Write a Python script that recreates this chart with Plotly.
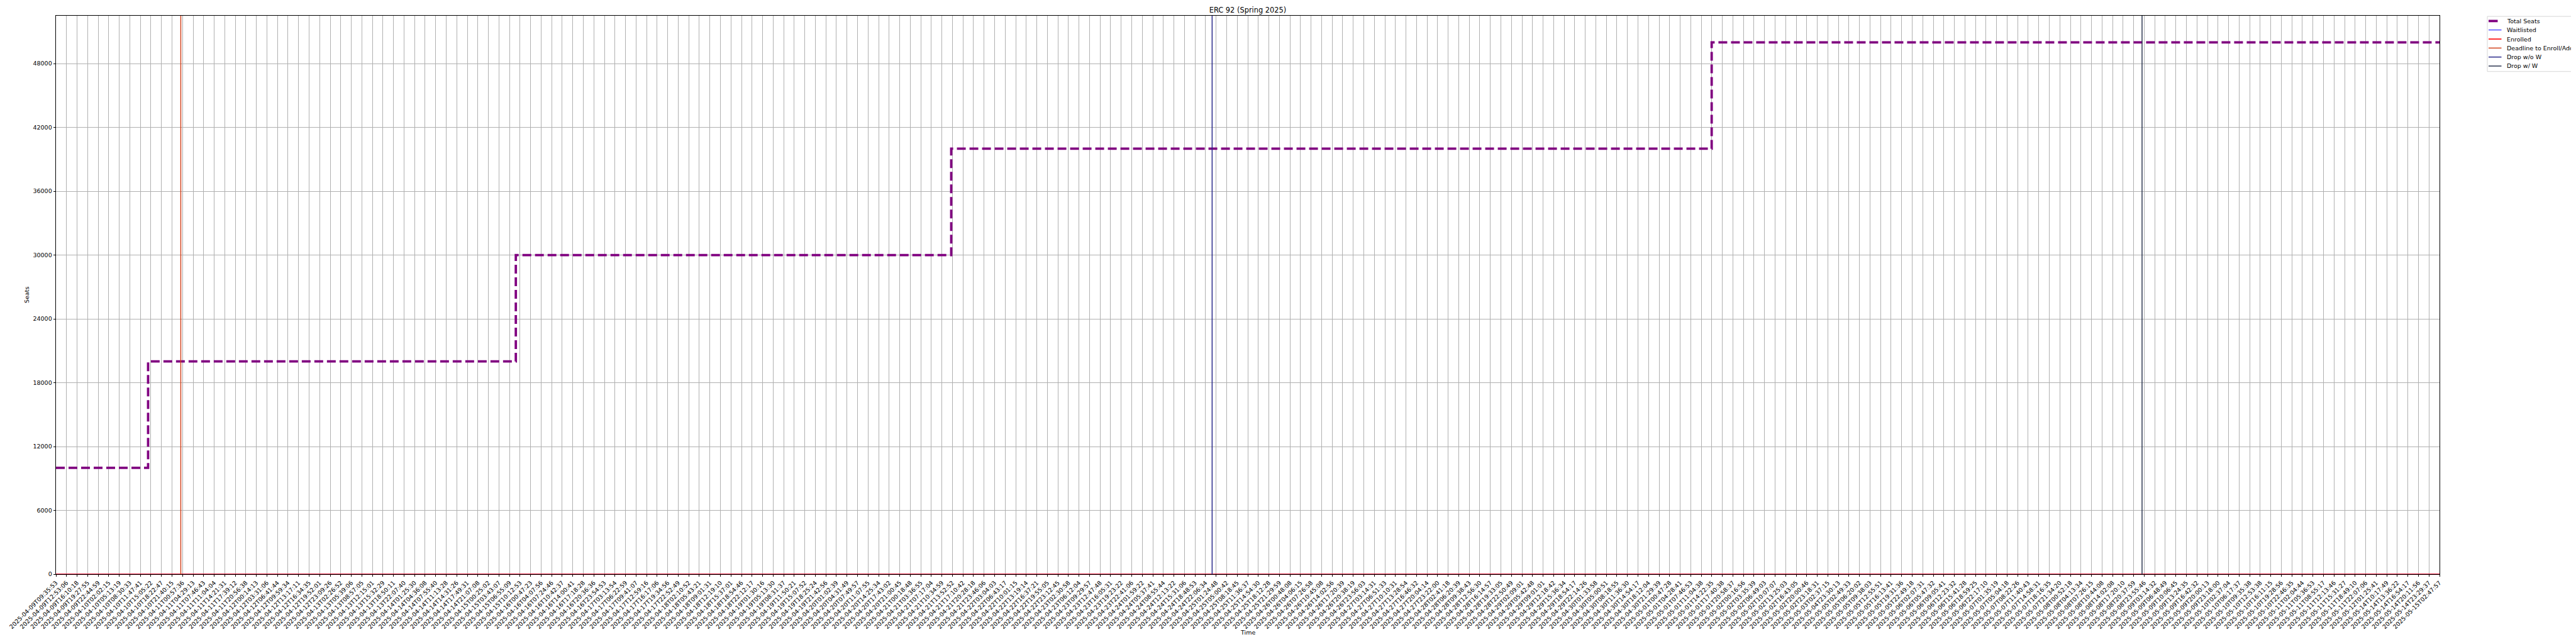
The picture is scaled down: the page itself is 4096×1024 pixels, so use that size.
import numpy as np
import pandas as pd
import plotly.graph_objects as go

# ---------------- data ----------------
times = [
    "2025-04-09T09:35:53", "2025-04-09T12:53:06", "2025-04-09T16:10:18", "2025-04-09T19:27:55",
    "2025-04-09T22:44:59", "2025-04-10T02:02:15", "2025-04-10T05:13:19", "2025-04-10T08:30:33",
    "2025-04-10T11:47:41", "2025-04-10T15:05:22", "2025-04-10T18:22:47", "2025-04-10T21:40:15",
    "2025-04-11T00:57:36", "2025-04-11T04:29:13", "2025-04-11T07:46:43", "2025-04-11T11:04:04",
    "2025-04-11T14:21:31", "2025-04-11T17:39:12", "2025-04-11T20:56:38", "2025-04-12T00:14:13",
    "2025-04-12T03:31:06", "2025-04-12T06:41:44", "2025-04-12T09:59:34", "2025-04-12T13:17:11",
    "2025-04-12T16:34:35", "2025-04-12T19:52:01", "2025-04-12T23:09:26", "2025-04-13T02:26:52",
    "2025-04-13T05:39:06", "2025-04-13T08:57:05", "2025-04-13T12:15:01", "2025-04-13T15:32:29",
    "2025-04-13T18:50:11", "2025-04-13T22:07:40", "2025-04-14T01:25:30", "2025-04-14T04:36:08",
    "2025-04-14T07:55:40", "2025-04-14T11:13:28", "2025-04-14T14:31:26", "2025-04-14T17:49:31",
    "2025-04-14T21:07:08", "2025-04-15T00:25:02", "2025-04-15T03:43:07", "2025-04-15T06:55:09",
    "2025-04-15T10:12:53", "2025-04-16T00:47:23", "2025-04-16T04:07:56", "2025-04-16T07:24:46",
    "2025-04-16T10:42:37", "2025-04-16T14:00:41", "2025-04-16T17:18:28", "2025-04-16T20:36:36",
    "2025-04-16T23:54:53", "2025-04-17T03:13:54", "2025-04-17T06:22:59", "2025-04-17T09:41:07",
    "2025-04-17T12:59:16", "2025-04-17T16:17:06", "2025-04-17T19:34:56", "2025-04-17T22:52:49",
    "2025-04-18T02:10:52", "2025-04-18T05:43:21", "2025-04-18T09:01:31", "2025-04-18T12:19:10",
    "2025-04-18T15:37:01", "2025-04-18T18:54:46", "2025-04-18T22:12:17", "2025-04-19T01:30:16",
    "2025-04-19T05:13:30", "2025-04-19T08:31:37", "2025-04-19T11:50:21", "2025-04-19T15:07:52",
    "2025-04-19T18:25:24", "2025-04-19T21:42:56", "2025-04-20T01:02:39", "2025-04-20T04:31:49",
    "2025-04-20T07:49:57", "2025-04-20T11:07:55", "2025-04-20T14:25:34", "2025-04-20T17:43:02",
    "2025-04-20T21:00:45", "2025-04-21T00:18:48", "2025-04-21T03:36:55", "2025-04-21T07:17:04",
    "2025-04-21T10:34:59", "2025-04-21T13:52:52", "2025-04-21T17:10:42", "2025-04-21T20:28:18",
    "2025-04-21T23:46:06", "2025-04-22T03:04:03", "2025-04-22T06:43:17", "2025-04-22T10:01:15",
    "2025-04-22T13:19:14", "2025-04-22T16:37:21", "2025-04-22T19:55:05", "2025-04-22T23:12:45",
    "2025-04-23T02:30:58", "2025-04-23T06:12:04", "2025-04-23T09:29:57", "2025-04-23T12:47:48",
    "2025-04-23T16:05:31", "2025-04-23T19:23:22", "2025-04-23T22:41:06", "2025-04-24T01:59:22",
    "2025-04-24T05:37:41", "2025-04-24T08:55:44", "2025-04-24T12:13:22", "2025-04-24T15:31:06",
    "2025-04-24T18:48:53", "2025-04-24T22:06:34", "2025-04-25T01:24:48", "2025-04-25T05:00:42",
    "2025-04-25T08:18:45", "2025-04-25T11:36:37", "2025-04-25T14:54:30", "2025-04-25T18:12:28",
    "2025-04-25T21:29:59", "2025-04-26T00:48:08", "2025-04-26T04:06:15", "2025-04-26T07:26:58",
    "2025-04-26T10:45:08", "2025-04-26T14:02:56", "2025-04-26T17:20:39", "2025-04-26T20:38:19",
    "2025-04-26T23:56:03", "2025-04-27T03:14:31", "2025-04-27T06:51:33", "2025-04-27T10:10:31",
    "2025-04-27T13:28:54", "2025-04-27T16:46:32", "2025-04-27T20:04:14", "2025-04-27T23:22:00",
    "2025-04-28T02:41:18", "2025-04-28T06:20:39", "2025-04-28T09:38:43", "2025-04-28T12:56:30",
    "2025-04-28T16:14:57", "2025-04-28T19:33:05", "2025-04-28T22:50:49", "2025-04-29T02:09:01",
    "2025-04-29T05:42:48", "2025-04-29T09:01:01", "2025-04-29T12:18:42", "2025-04-29T15:36:34",
    "2025-04-29T18:54:17", "2025-04-29T22:14:26", "2025-04-30T01:33:58", "2025-04-30T05:00:51",
    "2025-04-30T08:18:55", "2025-04-30T11:36:30", "2025-04-30T14:54:17", "2025-04-30T18:12:04",
    "2025-04-30T21:29:39", "2025-05-01T00:47:28", "2025-05-01T04:28:41", "2025-05-01T07:46:53",
    "2025-05-01T11:04:38", "2025-05-01T14:22:35", "2025-05-01T17:40:38", "2025-05-01T20:58:37",
    "2025-05-02T00:16:56", "2025-05-02T03:35:39", "2025-05-02T06:49:03", "2025-05-02T10:07:07",
    "2025-05-02T13:25:03", "2025-05-02T16:43:05", "2025-05-02T20:00:46", "2025-05-02T23:18:31",
    "2025-05-03T02:37:15", "2025-05-04T23:30:13", "2025-05-05T02:49:33", "2025-05-05T06:20:02",
    "2025-05-05T09:38:03", "2025-05-05T12:55:51", "2025-05-05T16:13:41", "2025-05-05T19:31:36",
    "2025-05-05T22:49:18", "2025-05-06T02:07:31", "2025-05-06T05:47:32", "2025-05-06T09:05:41",
    "2025-05-06T12:23:32", "2025-05-06T15:41:28", "2025-05-06T18:59:25", "2025-05-06T22:17:10",
    "2025-05-07T01:35:19", "2025-05-07T05:04:18", "2025-05-07T08:22:26", "2025-05-07T11:40:43",
    "2025-05-07T14:58:31", "2025-05-07T18:16:35", "2025-05-07T21:34:20", "2025-05-08T00:52:18",
    "2025-05-08T04:13:34", "2025-05-08T07:26:15", "2025-05-08T10:44:08", "2025-05-08T14:02:08",
    "2025-05-08T17:20:10", "2025-05-08T20:37:59", "2025-05-08T23:55:46", "2025-05-09T03:14:32",
    "2025-05-09T06:48:49", "2025-05-09T10:06:45", "2025-05-09T13:24:35", "2025-05-09T16:42:32",
    "2025-05-09T20:00:13", "2025-05-09T23:18:00", "2025-05-10T02:37:04", "2025-05-10T06:17:37",
    "2025-05-10T09:35:38", "2025-05-10T12:53:38", "2025-05-10T16:11:15", "2025-05-10T19:28:56",
    "2025-05-10T22:46:35", "2025-05-11T02:04:44", "2025-05-11T05:36:53", "2025-05-11T08:55:17",
    "2025-05-11T12:13:46", "2025-05-11T15:31:27", "2025-05-11T18:49:10", "2025-05-11T22:07:06",
    "2025-05-12T01:25:41", "2025-05-14T10:17:49", "2025-05-14T13:36:22", "2025-05-14T16:54:17",
    "2025-05-14T20:11:56", "2025-05-14T23:29:37", "2025-05-15T02:47:57",
]

# enrolment counts: zero at every snapshot
waitlisted = [0] * len(times)
enrolled = [0] * len(times)

# total seats: level at start and the times the seat count was raised
seat_levels = [10000, 20000, 30000, 40000, 50000]
seat_change_times = ["2025-04-10T14:13:00", "2025-04-15T08:54:00",
                     "2025-04-21T13:30:00", "2025-05-01T14:20:00"]

# academic deadlines
deadline_names = ["Deadline to Enroll/Add", "Drop w/o W", "Drop w/ W"]
deadline_times = ["2025-04-11T00:25:00", "2025-04-25T00:10:00", "2025-05-08T23:15:00"]
deadline_colors = ["#d2421c", "#2a2a8a", "#2c3650"]

y_ticks = [0, 6000, 12000, 18000, 24000, 30000, 36000, 42000, 48000]
y_max = 52500
title_text = "ERC 92 (Spring 2025)"

# ---------------- mapping of times onto the category index ----------------
t_num = pd.to_datetime(pd.Series(times)).astype("int64").to_numpy()
idx = np.arange(len(times), dtype=float)


def pos_of(ts):
    v = pd.to_datetime(pd.Series(ts)).astype("int64").to_numpy()
    return np.interp(v, t_num, idx)


change_pos = pos_of(seat_change_times)
seat_x = [idx[0]]
seat_y = [seat_levels[0]]
for p, lo, hi in zip(change_pos, seat_levels[:-1], seat_levels[1:]):
    seat_x += [p, p]
    seat_y += [lo, hi]
seat_x.append(idx[-1])
seat_y.append(seat_levels[-1])

dl_pos = pos_of(deadline_times)

# ---------------- geometry (window pixels; page body has an 8px margin) ----------------
OFF = 8
FW, FH = 4096 - OFF, 1024 - OFF
WL, WR, WT, WB = 89, 3879, 25, 913          # plot box in window pixels
L, T = WL - OFF, WT - OFF
PW, PH = WR - WL, WB - WT
R = FW - L - PW
B = FH - T - PH


def px(wx):
    return (wx - OFF - L) / PW


def py(wy):
    return 1 - (wy - OFF - T) / PH


FONT = "DejaVu Sans"
FS = 9.5
S = 0.682
seat_width = 4 * 1.389 * S
line_widths = [1.0, 1.6, 1.5, 1.5, 1.5]

fig = go.Figure()
fig.add_trace(go.Scatter(x=seat_x, y=seat_y, mode="lines", name="Total Seats", showlegend=False,
                         line=dict(color="purple", width=seat_width, dash="14px,6px")))
fig.add_trace(go.Scatter(x=idx, y=waitlisted, mode="lines", name="Waitlisted", showlegend=False,
                         line=dict(color="blue", width=line_widths[0])))
fig.add_trace(go.Scatter(x=idx, y=enrolled, mode="lines", name="Enrolled", showlegend=False,
                         line=dict(color="red", width=line_widths[1])))
for name, p, c, w in zip(deadline_names, dl_pos, deadline_colors, line_widths[2:]):
    fig.add_trace(go.Scatter(x=[p, p], y=[0, y_max], mode="lines", name=name, showlegend=False,
                             line=dict(color=c, width=w)))

axis_common = dict(showline=True, linecolor="black", linewidth=1, mirror=True,
                   ticks="outside", ticklen=3.4, tickwidth=0.8, tickcolor="black",
                   showgrid=True, gridcolor="#b0b0b0", gridwidth=0.8, zeroline=False,
                   tickfont=dict(family=FONT, size=FS, color="black"), automargin=False)

fig.update_xaxes(range=[idx[0], idx[-1]], tickmode="array", tickvals=idx, ticktext=times,
                 tickangle=-45, **axis_common)
fig.update_yaxes(range=[0, y_max], tickmode="array", tickvals=y_ticks,
                 ticktext=[str(v) for v in y_ticks], **axis_common)

# ---------------- legend drawn by hand (matplotlib-like spacing) ----------------
leg_names = ["Total Seats", "Waitlisted", "Enrolled"] + deadline_names
leg_colors = ["purple", "blue", "red"] + deadline_colors
leg_widths = [seat_width] + line_widths
leg_rows = [33.4, 47.7, 62.1, 76.4, 90.7, 105.0]
shapes = [dict(type="rect", xref="paper", yref="paper", x0=px(3955), x1=px(4110),
               y0=py(113.7), y1=py(26.1), line=dict(color="#cccccc", width=0.8),
               fillcolor="rgba(255,255,255,0.8)", layer="above")]
annotations = []
for i, (nm, c, w, yy) in enumerate(zip(leg_names, leg_colors, leg_widths, leg_rows)):
    x1 = 3971.5 if i == 0 else 3977.5
    shapes.append(dict(type="line", xref="paper", yref="paper", x0=px(3957), x1=px(x1),
                       y0=py(yy), y1=py(yy), line=dict(color=c, width=w), layer="above"))
    annotations.append(dict(text=nm, xref="paper", yref="paper", x=px(3984), y=py(yy),
                            xanchor="left", yanchor="middle", showarrow=False,
                            font=dict(family=FONT, size=FS, color="black")))

annotations += [
    dict(text="Time", xref="paper", yref="paper", x=0.5, y=py(1005),
         xanchor="center", yanchor="middle", showarrow=False,
         font=dict(family=FONT, size=FS, color="black")),
    dict(text="Seats", xref="paper", yref="paper", x=px(42), y=0.5,
         xanchor="center", yanchor="middle", textangle=-90, showarrow=False,
         font=dict(family=FONT, size=FS, color="black")),
]

fig.update_layout(
    width=FW, height=FH,
    margin=dict(l=L, r=R, t=T, b=B, pad=0, autoexpand=False),
    paper_bgcolor="white", plot_bgcolor="white",
    font=dict(family=FONT, size=FS, color="black"),
    title=dict(text=title_text, x=0.5, xref="paper", xanchor="center",
               y=1 - (15.7 - OFF) / FH, yref="container", yanchor="middle",
               font=dict(family=FONT, size=11.4, color="black")),
    showlegend=False,
    shapes=shapes,
    annotations=annotations,
)

fig.write_html("out.html")
